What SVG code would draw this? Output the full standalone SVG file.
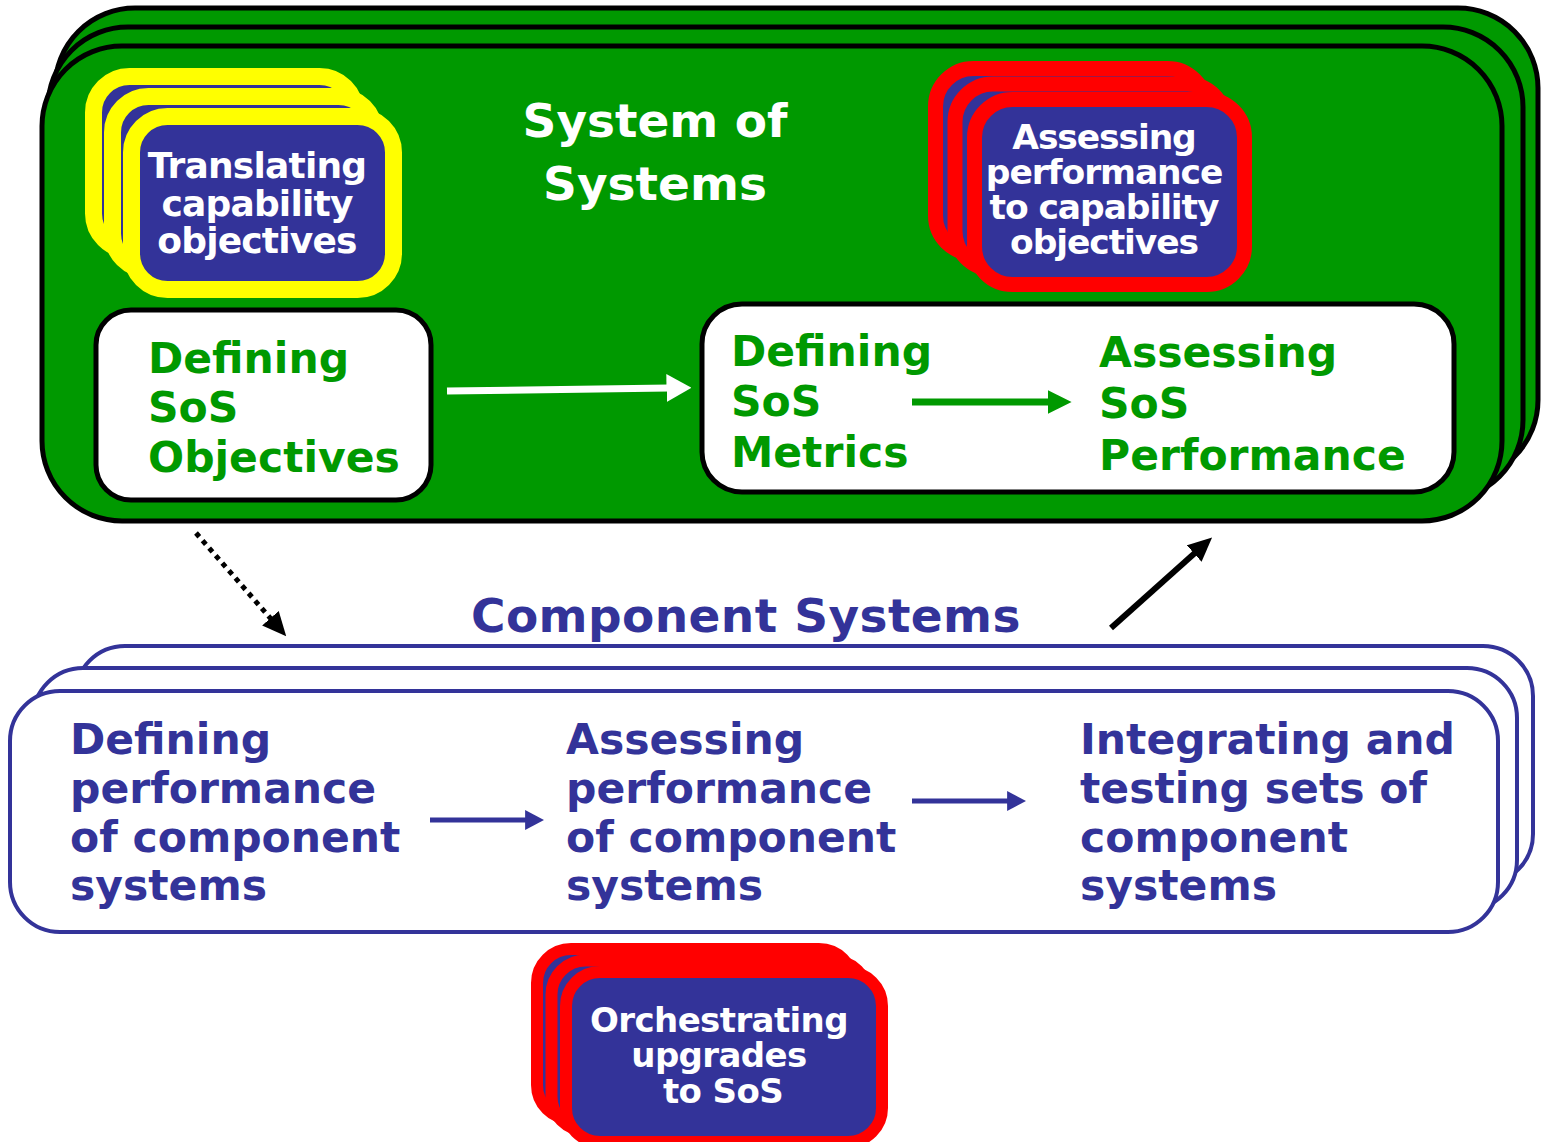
<svg xmlns="http://www.w3.org/2000/svg" width="1541" height="1142" viewBox="0 0 1541 1142">
<style>
text{font-family:"DejaVu Sans","Verdana",sans-serif;font-weight:bold}
.green{fill:#009900;stroke:#000;stroke-width:5}
.wbox{fill:#fff;stroke:#000;stroke-width:5}
.bbox{fill:#fff;stroke:#333399;stroke-width:4}
.ycard{fill:#333399;stroke:#FFFF00;stroke-width:17}
.rcard{fill:#333399;stroke:#FF0000;stroke-width:15}
.rcard2{fill:#333399;stroke:#FF0000;stroke-width:12}
.gt{fill:#009900;font-size:42.5px}
.bt{fill:#333399;font-size:42.5px}
.wt{fill:#fff}
</style>
<defs>
<marker id="hw" viewBox="0 0 10 10" refX="1" refY="5" markerUnits="userSpaceOnUse" markerWidth="25" markerHeight="28" orient="auto" preserveAspectRatio="none"><path d="M0,0 L10,5 L0,10 z" fill="#fff"/></marker>
<marker id="hg" viewBox="0 0 10 10" refX="1" refY="5" markerUnits="userSpaceOnUse" markerWidth="24" markerHeight="24" orient="auto" preserveAspectRatio="none"><path d="M0,0 L10,5 L0,10 z" fill="#009900"/></marker>
<marker id="hb" viewBox="0 0 10 10" refX="1" refY="5" markerUnits="userSpaceOnUse" markerWidth="19" markerHeight="20" orient="auto" preserveAspectRatio="none"><path d="M0,0 L10,5 L0,10 z" fill="#333399"/></marker>
<marker id="hk" viewBox="0 0 10 10" refX="1" refY="5" markerUnits="userSpaceOnUse" markerWidth="24" markerHeight="22" orient="auto" preserveAspectRatio="none"><path d="M0,0 L10,5 L0,10 z" fill="#000"/></marker>
</defs>
<rect width="1541" height="1142" fill="#fff"/>

<g id="sos">
<rect class="green" x="55" y="8" width="1483" height="472" rx="80"/>
<rect class="green" x="48" y="27" width="1475" height="473" rx="80"/>
<rect class="green" x="42" y="46" width="1460" height="475" rx="80"/>
<text class="wt" font-size="47" text-anchor="middle"><tspan x="655" y="137">System of</tspan><tspan x="655" y="200">Systems</tspan></text>
</g>

<g id="translating">
<rect class="ycard" x="93.5" y="76.5" width="262" height="173" rx="36"/>
<rect class="ycard" x="112.5" y="96.5" width="262" height="173" rx="36"/>
<rect class="ycard" x="131.5" y="116.5" width="262" height="173" rx="36"/>
<text class="wt" font-size="36" letter-spacing="-0.8" text-anchor="middle"><tspan x="257" y="178">Translating</tspan><tspan x="257" y="216">capability</tspan><tspan x="257" y="253">objectives</tspan></text>
</g>

<g id="assessing-cap">
<rect class="rcard" x="935.5" y="68.5" width="270" height="185" rx="38"/>
<rect class="rcard" x="955" y="84" width="270" height="185" rx="38"/>
<rect class="rcard" x="974.5" y="99.5" width="270" height="185" rx="38"/>
<text class="wt" font-size="34.5" letter-spacing="-1.1" text-anchor="middle"><tspan x="1104" y="149">Assessing</tspan><tspan x="1104" y="184">performance</tspan><tspan x="1104" y="219">to capability</tspan><tspan x="1104" y="254">objectives</tspan></text>
</g>

<g id="def-objectives">
<rect class="wbox" x="96" y="310" width="335" height="190" rx="35"/>
<text class="gt"><tspan x="148" y="373">Defining</tspan><tspan x="148" y="422">SoS</tspan><tspan x="148" y="472">Objectives</tspan></text>
</g>

<g id="metrics-performance">
<rect class="wbox" x="702" y="304" width="752" height="188" rx="40"/>
<text class="gt"><tspan x="731" y="366">Defining</tspan><tspan x="731" y="416">SoS</tspan><tspan x="731" y="467">Metrics</tspan></text>
<text class="gt"><tspan x="1099" y="367">Assessing</tspan><tspan x="1099" y="418">SoS</tspan><tspan x="1099" y="470">Performance</tspan></text>
</g>

<g id="component-systems">
<text x="471" y="632" font-size="47" letter-spacing="0.4" fill="#333399">Component Systems</text>
<rect class="bbox" x="75" y="646" width="1458" height="238" rx="50"/>
<rect class="bbox" x="33" y="668" width="1484" height="242" rx="50"/>
<rect class="bbox" x="10" y="691" width="1488" height="241" rx="50"/>
<text class="bt"><tspan x="70" y="754">Defining</tspan><tspan x="70" y="803">performance</tspan><tspan x="70" y="852">of component</tspan><tspan x="70" y="900">systems</tspan></text>
<text class="bt"><tspan x="566" y="754">Assessing</tspan><tspan x="566" y="803">performance</tspan><tspan x="566" y="852">of component</tspan><tspan x="566" y="900">systems</tspan></text>
<text class="bt"><tspan x="1080" y="754">Integrating and</tspan><tspan x="1080" y="803">testing sets of</tspan><tspan x="1080" y="852">component</tspan><tspan x="1080" y="900">systems</tspan></text>
</g>

<g id="orchestrating">
<rect class="rcard2" x="537" y="949" width="316" height="170" rx="34"/>
<rect class="rcard2" x="551.5" y="960.5" width="316" height="170" rx="34"/>
<rect class="rcard2" x="566" y="972" width="316" height="170" rx="34"/>
<text class="wt" font-size="34" letter-spacing="-0.6" text-anchor="middle"><tspan x="719" y="1032">Orchestrating</tspan><tspan x="719" y="1067">upgrades</tspan><tspan x="723" y="1103">to SoS</tspan></text>
</g>

<g id="connectors">
<line x1="447" y1="391" x2="669" y2="388" stroke="#fff" stroke-width="7" marker-end="url(#hw)"/>
<line x1="912" y1="402" x2="1050" y2="402" stroke="#009900" stroke-width="7" marker-end="url(#hg)"/>
<line x1="430" y1="820" x2="527" y2="820" stroke="#333399" stroke-width="5" marker-end="url(#hb)"/>
<line x1="912" y1="801" x2="1009" y2="801" stroke="#333399" stroke-width="5" marker-end="url(#hb)"/>
<line x1="196" y1="533" x2="272" y2="620" stroke="#000" stroke-width="5" stroke-dasharray="5 5" marker-end="url(#hk)"/>
<line x1="1111" y1="628" x2="1196" y2="552" stroke="#000" stroke-width="6" marker-end="url(#hk)"/>
</g>
</svg>
